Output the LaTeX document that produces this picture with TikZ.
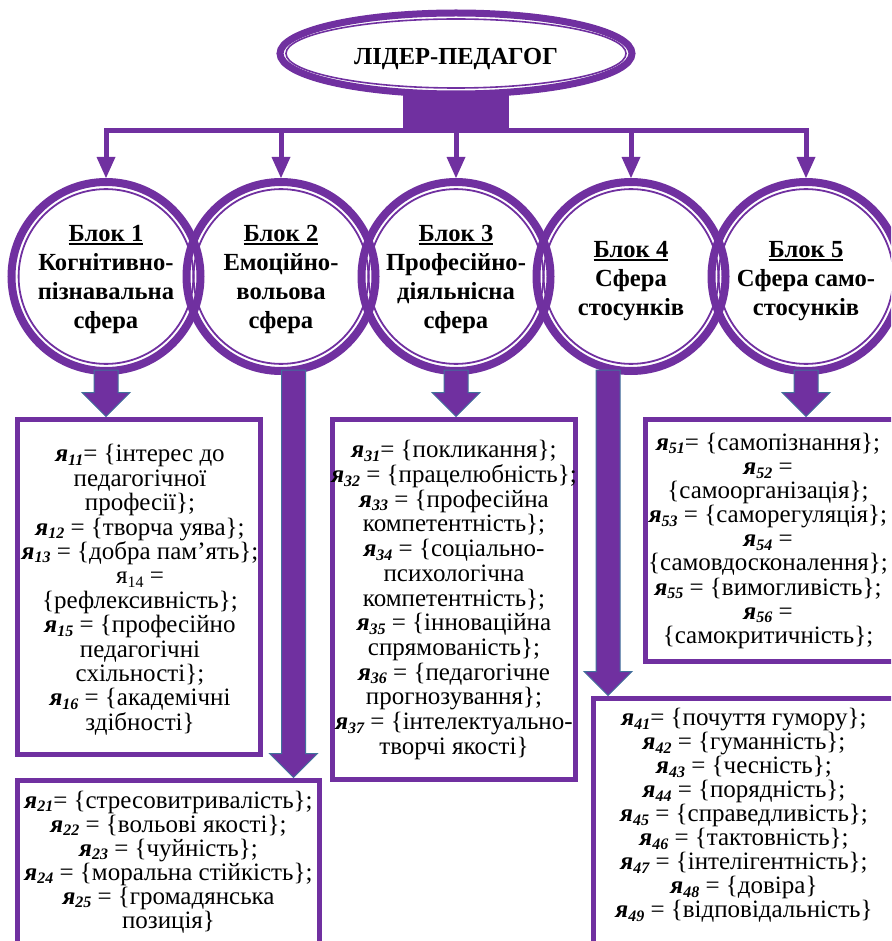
\documentclass[tikz,border=0pt]{standalone}
\usepackage{fontspec}
\setmainfont{Liberation Serif}
\usetikzlibrary{shapes.geometric,arrows.meta,calc}
\definecolor{purp}{HTML}{7030A0}
\definecolor{arrline}{HTML}{41719C}
\newcommand\yb[1]{\textbf{\textit{я}}\raisebox{-3.5pt}{\fontsize{16}{16}\selectfont\bfseries\itshape #1}}
\newcommand\yr[1]{я\raisebox{-3.5pt}{\fontsize{16}{16}\selectfont #1}}
\newcommand\ulbox[1]{\setbox0\hbox{#1}\rlap{\rule[-3.3pt]{\wd0}{2pt}}\box0}
\newcommand\fatarrow[2]{\draw[fatarr] ($(#1)+(-12,0)$) -- ($(#2)+(-12,-24)$) -- ($(#2)+(-24,-24)$) -- (#2) -- ($(#2)+(24,-24)$) -- ($(#2)+(12,-24)$) -- ($(#1)+(12,0)$) -- cycle;}
\begin{document}
\begin{tikzpicture}[x=1pt,y=-1pt,
  titleell/.style={ellipse, draw=purp, line width=7pt, fill=white,
    minimum width=352pt, minimum height=81pt, inner sep=0pt,
    font=\fontsize{24.5}{28}\selectfont\bfseries, text height=22pt, text depth=0pt,
    path picture={\draw[purp,line width=1.6pt] (path picture bounding box.center) ellipse[x radius=170pt,y radius=34.5pt];}},
  stembox/.style={rectangle, fill=purp, draw=none, minimum width=106pt, minimum height=40pt, inner sep=0pt},
  circ/.style={circle, draw=purp, line width=8pt, minimum size=189pt, inner sep=0pt, outer sep=4pt,
    align=center, font=\fontsize{24.6}{28.7}\selectfont\bfseries,
    path picture={\draw[purp,line width=1.8pt] (path picture bounding box.center) circle[radius=87.4pt];}},
  topconn/.style={draw=purp, line width=5pt, line join=miter},
  tip/.tip={Triangle[width=19pt,length=21pt,line width=0pt]},
  frame/.style={rectangle, draw=purp, line width=5pt, fill=white, inner sep=0pt, outer sep=0pt},
  boxtext/.style={align=center, inner sep=0pt, font=\fontsize{25}{#1}\selectfont},
  fatarr/.style={fill=purp, draw=arrline, line width=1pt, line join=miter}
]
\useasboundingbox (0,0) rectangle (891,941);
\clip (0,0) rectangle (891,941);

% title
\node[stembox] (stem) at (456,112.5) {};
\node[titleell] (title) at (456,53.5) {ЛІДЕР-ПЕДАГОГ};
\coordinate (bar) at (456,130.5);

% circles
\node[circ] (c1) at (106,276.5) {\rule{0pt}{22.3pt}\ulbox{Блок 1}\\Когнітивно-\\пізнавальна\\сфера};
\node[circ] (c2) at (281,276.5) {\rule{0pt}{22.3pt}\ulbox{Блок 2}\\Емоційно-\\вольова\\сфера};
\node[circ] (c3) at (456,276.5) {\rule{0pt}{22.3pt}\ulbox{Блок 3}\\Професійно-\\діяльнісна\\сфера};
\node[circ] (c4) at (631,276.5) {\rule{0pt}{25.6pt}\ulbox{Блок 4}\\Сфера\\стосунків};
\node[circ] (c5) at (806,276.5) {\rule{0pt}{25.6pt}\ulbox{Блок 5}\\Сфера само-\\стосунків};

% top connectors
\draw[topconn, {tip}-{tip}] (c1.north) |- (bar) -| (c5.north);
\draw[topconn, -{tip}] (c2.north |- bar) -- (c2.north);
\draw[topconn, -{tip}] (c3.north |- bar) -- (c3.north);
\draw[topconn, -{tip}] (c4.north |- bar) -- (c4.north);

% frames
\node[frame, minimum width=243pt, minimum height=335pt] (b1) at (139,587) {};
\node[frame, minimum width=302pt, minimum height=179.5pt] (b2) at (168.5,870.25) {};
\node[frame, minimum width=243pt, minimum height=360pt] (b3) at (454,599.5) {};
\node[frame, minimum width=316.5pt, minimum height=261.5pt] (b4) at (751.75,829.25) {};
\node[frame, minimum width=259.5pt, minimum height=242pt] (b5) at (775.25,540.5) {};

% fat arrows
\coordinate (a2x) at (293.5,0);
\coordinate (a4x) at (608,0);
\coordinate (s1) at ($(c1.south)+(0,-5)$);
\coordinate (e1) at ($(c1.south |- b1.north)+(0,-3)$);
\coordinate (s2) at ($(a2x |- c2.south)+(0,-5)$);
\coordinate (e2) at ($(a2x |- b2.north)+(0,-3)$);
\coordinate (s3) at ($(c3.south)+(0,-5)$);
\coordinate (e3) at ($(c3.south |- b3.north)+(0,-3)$);
\coordinate (s4) at ($(a4x |- c4.south)+(0,-5)$);
\coordinate (e4) at ($(a4x |- b4.north)+(0,-3)$);
\coordinate (s5) at ($(c5.south)+(0,-5)$);
\coordinate (e5) at ($(c5.south |- b5.north)+(0,-3)$);
\fatarrow{s1}{e1}
\fatarrow{s2}{e2}
\fatarrow{s3}{e3}
\fatarrow{s4}{e4}
\fatarrow{s5}{e5}

% box texts
\node[boxtext=24.4] (t1) at (140,589.8) {\yb{11}= \{інтерес до\\педагогічної\\професії\};\\\yb{12} = \{творча уява\};\\\yb{13} = \{добра пам’ять\};\\\yr{14} =\\\{рефлексивність\};\\\yb{15} = \{професійно\\педагогічні\\схільності\};\\\yb{16} = \{академічні\\здібності\}};
\node[boxtext=24] (t2) at (168.5,862) {\yb{21}= \{стресовитривалість\};\\\yb{22} = \{вольові якості\};\\\yb{23} = \{чуйність\};\\\yb{24} = \{моральна стійкість\};\\\yb{25} = \{громадянська\\позиція\}};
\node[boxtext=24.7] (t3) at (454,600) {\yb{31}= \{покликання\};\\\yb{32} = \{працелюбність\};\\\yb{33} = \{професійна\\компетентність\};\\\yb{34} = \{соціально-\\психологічна\\компетентність\};\\\yb{35} = \{інноваційна\\спрямованість\};\\\yb{36} = \{педагогічне\\прогнозування\};\\\yb{37} = \{інтелектуально-\\творчі якості\}};
\node[boxtext=24] (t4) at (744,815.5) {\yb{41}= \{почуття гумору\};\\\yb{42} = \{гуманність\};\\\yb{43} = \{чесність\};\\\yb{44} = \{порядність\};\\\yb{45} = \{справедливість\};\\\yb{46} = \{тактовність\};\\\yb{47} = \{інтелігентність\};\\\yb{48} = \{довіра\}\\\yb{49} = \{відповідальність\}};
\node[boxtext=24.1] (t5) at (768,540.8) {\yb{51}= \{самопізнання\};\\\yb{52} =\\\{самоорганізація\};\\\yb{53} = \{саморегуляція\};\\\yb{54} =\\\{самовдосконалення\};\\\yb{55} = \{вимогливість\};\\\yb{56} =\\\{самокритичність\};};
\end{tikzpicture}
\end{document}
